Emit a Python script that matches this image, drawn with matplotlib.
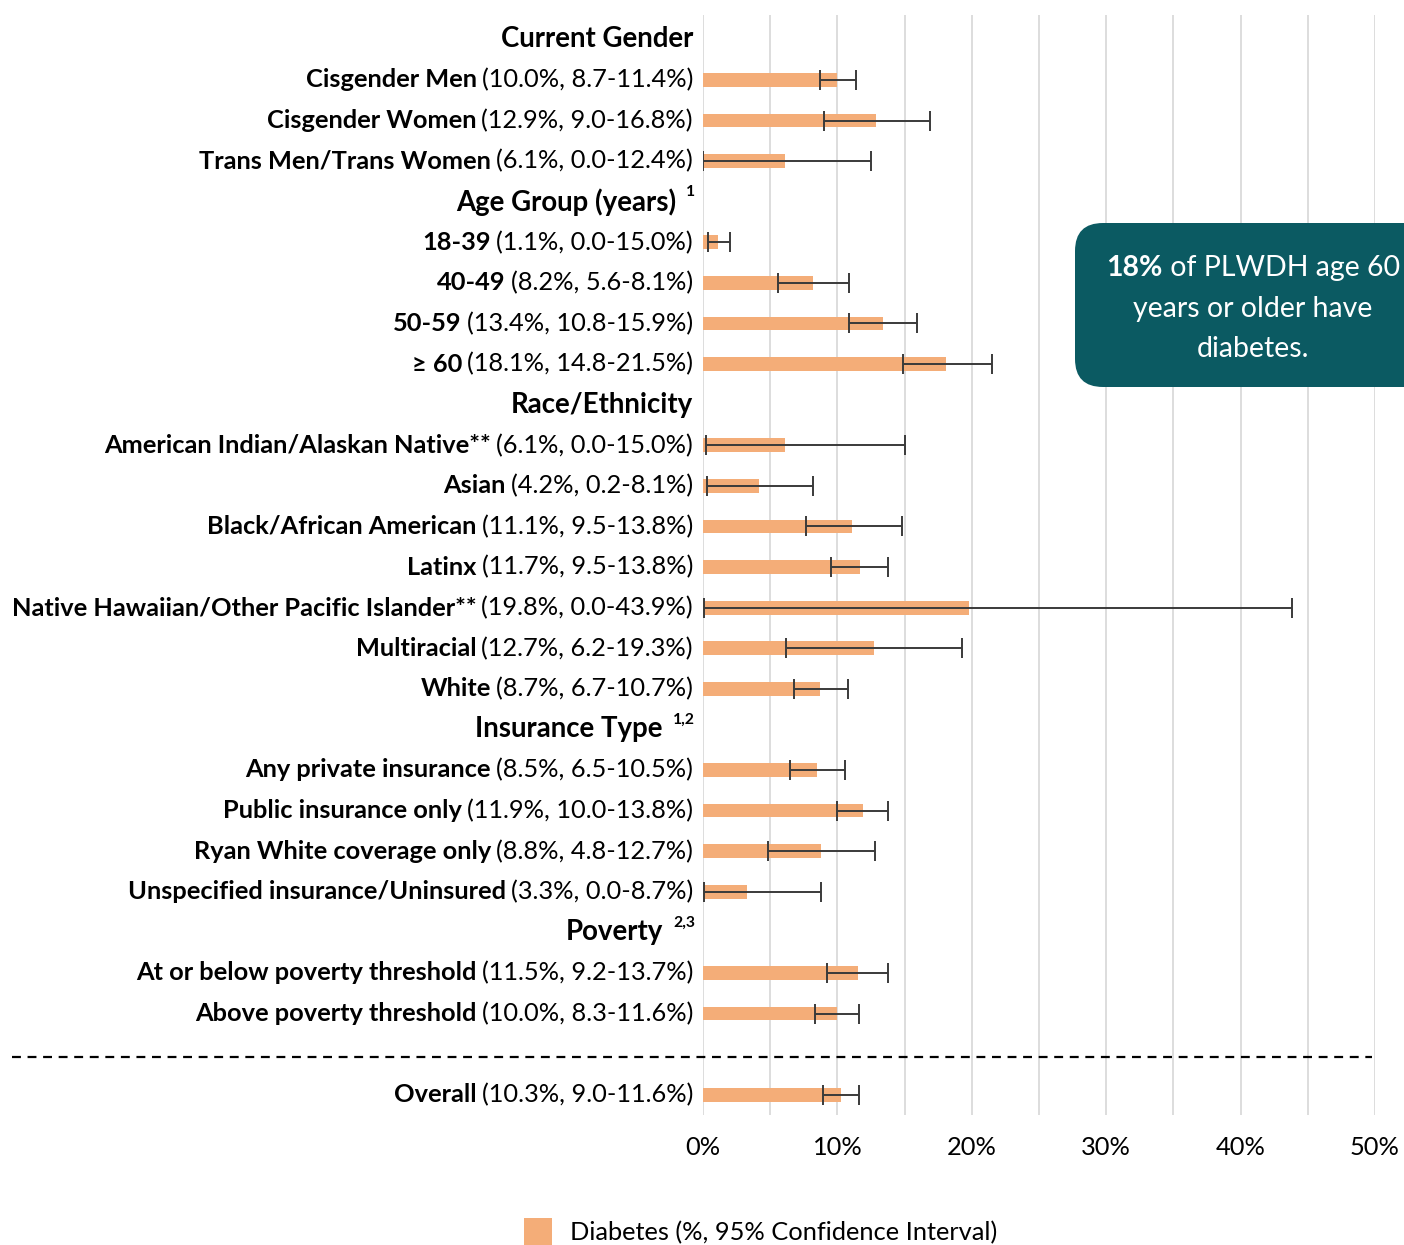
import matplotlib.pyplot as plt
import matplotlib.transforms as mtransforms
from matplotlib.patches import FancyBboxPatch, Patch
from matplotlib.lines import Line2D

plt.rcParams['font.family'] = ['Lato', 'DejaVu Sans']

# section headers and footnote marks
sections = ['Current Gender', 'Age Group (years)', 'Race/Ethnicity',
            'Insurance Type', 'Poverty']
section_notes = ['', '1', '', '1,2', '2,3']
section_sizes = [3, 4, 7, 4, 2]

names = ['Cisgender Men', 'Cisgender Women', 'Trans Men/Trans Women',
         '18-39', '40-49', '50-59', '\u2265 60',
         'American Indian/Alaskan Native**', 'Asian', 'Black/African American',
         'Latinx', 'Native Hawaiian/Other Pacific Islander**', 'Multiracial',
         'White',
         'Any private insurance', 'Public insurance only',
         'Ryan White coverage only', 'Unspecified insurance/Uninsured',
         'At or below poverty threshold', 'Above poverty threshold']
stats = ['(10.0%, 8.7-11.4%)', '(12.9%, 9.0-16.8%)', '(6.1%, 0.0-12.4%)',
         '(1.1%, 0.0-15.0%)', '(8.2%, 5.6-8.1%)', '(13.4%, 10.8-15.9%)',
         '(18.1%, 14.8-21.5%)',
         '(6.1%, 0.0-15.0%)', '(4.2%, 0.2-8.1%)', '(11.1%, 9.5-13.8%)',
         '(11.7%, 9.5-13.8%)', '(19.8%, 0.0-43.9%)', '(12.7%, 6.2-19.3%)',
         '(8.7%, 6.7-10.7%)',
         '(8.5%, 6.5-10.5%)', '(11.9%, 10.0-13.8%)', '(8.8%, 4.8-12.7%)',
         '(3.3%, 0.0-8.7%)',
         '(11.5%, 9.2-13.7%)', '(10.0%, 8.3-11.6%)']
pct = [10.0, 12.9, 6.1,
       1.1, 8.2, 13.4, 18.1,
       6.1, 4.2, 11.1, 11.7, 19.8, 12.7, 8.7,
       8.5, 11.9, 8.8, 3.3,
       11.5, 10.0]
ci_low = [8.7, 9.0, 0.0,
          0.4, 5.6, 10.9, 14.9,
          0.2, 0.3, 7.7, 9.5, 0.1, 6.2, 6.8,
          6.5, 10.0, 4.8, 0.1,
          9.2, 8.3]
ci_high = [11.4, 16.9, 12.5,
           2.0, 10.9, 15.9, 21.5,
           15.0, 8.2, 14.8, 13.8, 43.8, 19.3, 10.8,
           10.6, 13.8, 12.8, 8.8,
           13.8, 11.6]

overall_name = 'Overall'
overall_stat = '(10.3%, 9.0-11.6%)'
overall_pct = 10.3
overall_low = 8.9
overall_high = 11.6

x_ticks = [0, 10, 20, 30, 40, 50]
legend_label = 'Diabetes (%, 95% Confidence Interval)'

BAR = '#f4ad78'
ERR = '#3a3a3a'
TEAL = '#0b5a62'
FS = 18.3
HFS = 19.9

fig = plt.figure(figsize=(14.04, 12.45), dpi=100)
ax = fig.add_axes([703 / 1404, 130 / 1245, 672 / 1404, 1100 / 1245])

# one slot per header / row
header_y = []
rows_y = []
slot = 0
for size in section_sizes:
    header_y.append(slot)
    slot += 1
    for k in range(size):
        rows_y.append(slot)
        slot += 1
sep_y = slot + 0.06
overall_y = slot + 1

all_y = rows_y + [overall_y]
all_pct = pct + [overall_pct]
all_low = ci_low + [overall_low]
all_high = ci_high + [overall_high]

ax.barh(all_y, all_pct, height=0.34, color=BAR, zorder=2)
ax.errorbar(all_pct, all_y,
            xerr=[[p - l for p, l in zip(all_pct, all_low)],
                  [h - p for p, h in zip(all_pct, all_high)]],
            fmt='none', ecolor=ERR, elinewidth=1.4, capsize=7, capthick=1.4,
            zorder=3)

ax.set_xlim(0, 50)
ax.set_ylim(26.5, -0.6)
ax.set_xticks(x_ticks)
ax.set_xticklabels([f'{t}%' for t in x_ticks])
ax.set_xticks(range(5, 50, 10), minor=True)
ax.set_yticks([])
ax.grid(axis='x', which='both', color='#dadada', lw=1.3, zorder=0)
ax.tick_params(axis='x', which='both', length=0, pad=15, labelsize=FS)
for s in ax.spines.values():
    s.set_visible(False)

fig.canvas.draw()
renderer = fig.canvas.get_renderer()
trans = mtransforms.blended_transform_factory(ax.transAxes, ax.transData)
X_RIGHT = -0.015


def two_part(y, bold_txt, reg_txt, gap=5):
    t = ax.text(X_RIGHT, y, reg_txt, transform=trans, ha='right', va='center',
                fontsize=FS)
    w = t.get_window_extent(renderer).width
    off = mtransforms.offset_copy(trans, fig=fig, x=-(w + gap), units='dots')
    ax.text(X_RIGHT, y, bold_txt, transform=off, ha='right', va='center',
            fontsize=FS, fontweight='bold')


for y, n, s in zip(rows_y, names, stats):
    two_part(y, n, s)
two_part(overall_y, overall_name, overall_stat)

for y, h, note in zip(header_y, sections, section_notes):
    if note:
        sup = mtransforms.offset_copy(trans, fig=fig, x=2, y=10, units='dots')
        t = ax.text(X_RIGHT, y, note, transform=sup, ha='right', va='center',
                    fontsize=FS * 0.62, fontweight='bold')
        w = t.get_window_extent(renderer).width
        off = mtransforms.offset_copy(trans, fig=fig, x=-(w + 8), units='dots')
        ax.text(X_RIGHT, y, h, transform=off, ha='right', va='center',
                fontsize=HFS, fontweight='bold')
    else:
        ax.text(X_RIGHT, y, h, transform=trans, ha='right', va='center',
                fontsize=HFS, fontweight='bold')

# dashed separator above the overall row
ax.add_line(Line2D([(12 - 703) / 672, (1372 - 703) / 672], [sep_y, sep_y],
                   transform=trans, color='black', lw=1.6, ls=(0, (4, 3)),
                   clip_on=False))

# callout box
box = FancyBboxPatch((10.75, 8.58), 4.0, 1.64,
                     boxstyle='round,pad=0,rounding_size=0.28',
                     transform=fig.dpi_scale_trans, facecolor=TEAL,
                     edgecolor='none')
fig.patches.append(box)
BOX_FS = 20.5
cx = 1253 / 1404
t = fig.text(cx, 1 - 268 / 1245, ' of PLWDH age 60', color='white',
             fontsize=BOX_FS, ha='center', va='center')
w_reg = t.get_window_extent(renderer).width
b = fig.text(cx, 1 - 268 / 1245, '18%', color='white', fontsize=BOX_FS,
             fontweight='bold', ha='center', va='center')
w_b = b.get_window_extent(renderer).width
total = w_reg + w_b
left_px = cx * 1404 - total / 2
b.set_position(((left_px + w_b / 2) / 1404, 1 - 268 / 1245))
t.set_position(((left_px + w_b + w_reg / 2) / 1404, 1 - 268 / 1245))
fig.text(cx, 1 - 309 / 1245, 'years or older have', color='white',
         fontsize=BOX_FS, ha='center', va='center')
fig.text(cx, 1 - 349 / 1245, 'diabetes.', color='white',
         fontsize=BOX_FS, ha='center', va='center')

fig.legend(handles=[Patch(facecolor=BAR)], labels=[legend_label],
           loc='lower center', bbox_to_anchor=(0.542, -0.019), frameon=False,
           fontsize=FS, handlelength=1.1, handleheight=1.3, handletextpad=0.7)

fig.savefig('out.png', dpi=100)
